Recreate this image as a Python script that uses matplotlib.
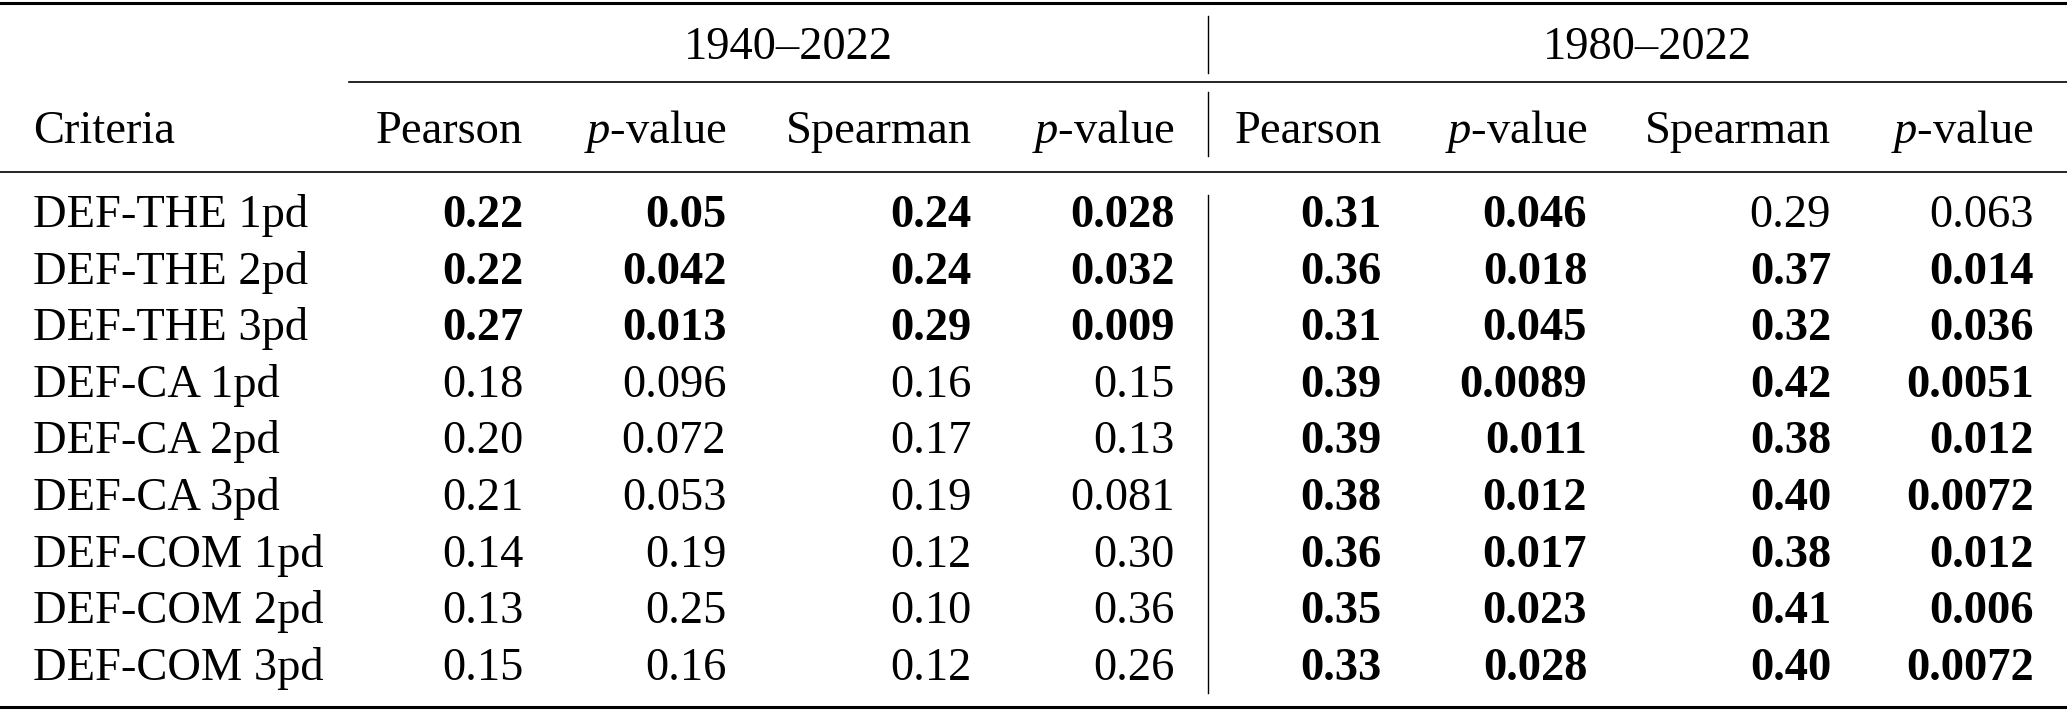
import matplotlib
matplotlib.use("Agg")
import matplotlib.pyplot as plt

plt.rcParams['font.family'] = ['Liberation Serif', 'DejaVu Serif']
plt.rcParams['mathtext.fontset'] = 'custom'
plt.rcParams['mathtext.rm'] = 'Liberation Serif'
plt.rcParams['mathtext.it'] = 'Liberation Serif:italic'
plt.rcParams['mathtext.bf'] = 'Liberation Serif:bold'

# ---- data ----
periods = ["1940\u20132022", "1980\u20132022"]
col_names = ["Pearson", "$p$-value", "Spearman", "$p$-value"]
criteria = ["DEF-THE 1pd", "DEF-THE 2pd", "DEF-THE 3pd",
            "DEF-CA 1pd", "DEF-CA 2pd", "DEF-CA 3pd",
            "DEF-COM 1pd", "DEF-COM 2pd", "DEF-COM 3pd"]

pearson_40 = ["0.22", "0.22", "0.27", "0.18", "0.20", "0.21", "0.14", "0.13", "0.15"]
p_pear_40 = ["0.05", "0.042", "0.013", "0.096", "0.072", "0.053", "0.19", "0.25", "0.16"]
spearman_40 = ["0.24", "0.24", "0.29", "0.16", "0.17", "0.19", "0.12", "0.10", "0.12"]
p_spear_40 = ["0.028", "0.032", "0.009", "0.15", "0.13", "0.081", "0.30", "0.36", "0.26"]

pearson_80 = ["0.31", "0.36", "0.31", "0.39", "0.39", "0.38", "0.36", "0.35", "0.33"]
p_pear_80 = ["0.046", "0.018", "0.045", "0.0089", "0.011", "0.012", "0.017", "0.023", "0.028"]
spearman_80 = ["0.29", "0.37", "0.32", "0.42", "0.38", "0.40", "0.38", "0.41", "0.40"]
p_spear_80 = ["0.063", "0.014", "0.036", "0.0051", "0.012", "0.0072", "0.012", "0.006", "0.0072"]

# significant (bold) flags per row, for each period and test
bold_pear_40 = [1, 1, 1, 0, 0, 0, 0, 0, 0]
bold_spear_40 = [1, 1, 1, 0, 0, 0, 0, 0, 0]
bold_pear_80 = [1, 1, 1, 1, 1, 1, 1, 1, 1]
bold_spear_80 = [0, 1, 1, 1, 1, 1, 1, 1, 1]

columns = [(pearson_40, bold_pear_40), (p_pear_40, bold_pear_40),
           (spearman_40, bold_spear_40), (p_spear_40, bold_spear_40),
           (pearson_80, bold_pear_80), (p_pear_80, bold_pear_80),
           (spearman_80, bold_spear_80), (p_spear_80, bold_spear_80)]

# ---- layout (in a 1568 x 538 frame) ----
W, H = 1568, 538
fs = 33.5
col_right = [397, 551, 737, 891, 1048, 1204, 1389, 1543]
group_center = [598, 1250]
x_label = 25
vline_x = 916
row0_base = 172
row_step = 42.9

fig = plt.figure(figsize=(20.67, 7.10), dpi=100)
ax = fig.add_axes([0, 0, 1, 1])
ax.set_xlim(0, W)
ax.set_ylim(H, 0)
ax.axis("off")

# rules
ax.plot([0, W], [2, 2], color="black", lw=2.2)
ax.plot([265, W], [62, 62], color="black", lw=1.2)
ax.plot([0, W], [130, 130], color="black", lw=1.2)
ax.plot([0, W], [536, 536], color="black", lw=2.2)
for y0, y1 in [(12, 55), (70, 118), (148, 525)]:
    ax.plot([vline_x, vline_x], [y0, y1], color="black", lw=1.0)

# headers
for c, name in zip(group_center, periods):
    ax.text(c, 45, name, ha="center", va="baseline", fontsize=fs)
ax.text(x_label, 108, "Criteria", ha="left", va="baseline", fontsize=fs)
for j, xr in enumerate(col_right):
    ax.text(xr, 108, col_names[j % 4], ha="right", va="baseline", fontsize=fs)

# body
for i, crit in enumerate(criteria):
    yb = row0_base + i * row_step
    ax.text(x_label, yb, crit, ha="left", va="baseline", fontsize=fs)
    for xr, (vals, bold) in zip(col_right, columns):
        ax.text(xr, yb, vals[i], ha="right", va="baseline", fontsize=fs,
                fontweight="bold" if bold[i] else "normal")

fig.savefig("out.png", dpi=100)
